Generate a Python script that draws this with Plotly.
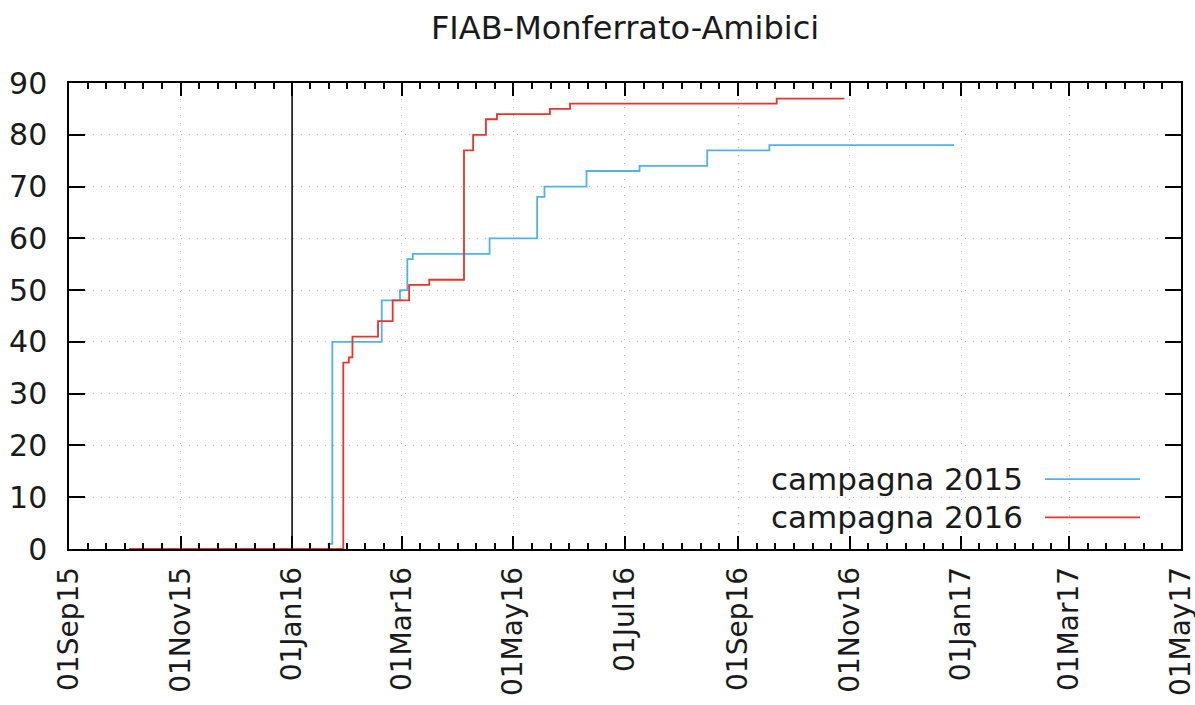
import plotly.graph_objects as go
import pandas as pd

title_text = "FIAB-Monferrato-Amibici"

series_names = ["campagna 2015", "campagna 2016"]

dates_2015 = ["2015-10-04", "2016-01-21", "2016-01-23", "2016-02-19", "2016-02-29",
              "2016-03-04", "2016-03-07", "2016-04-18", "2016-05-14", "2016-05-18",
              "2016-06-10", "2016-07-09", "2016-08-15", "2016-09-18", "2016-12-28"]
values_2015 = [0, 1, 40, 48, 50, 56, 57, 60, 68, 70, 73, 74, 77, 78, 78]

dates_2016 = ["2015-10-04", "2016-01-29", "2016-02-01", "2016-02-03", "2016-02-17",
              "2016-02-25", "2016-03-05", "2016-03-16", "2016-04-04", "2016-04-09",
              "2016-04-16", "2016-04-22", "2016-05-21", "2016-06-01", "2016-09-22",
              "2016-10-29"]
values_2016 = [0, 36, 37, 41, 44, 48, 51, 52, 77, 80, 83, 84, 85, 86, 87, 87]

x_tick_dates = ["2015-09-01", "2015-11-01", "2016-01-01", "2016-03-01", "2016-05-01",
                "2016-07-01", "2016-09-01", "2016-11-01", "2017-01-01", "2017-03-01",
                "2017-05-01"]
x_tick_labels = ["01Sep15", "01Nov15", "01Jan16", "01Mar16", "01May16", "01Jul16",
                 "01Sep16", "01Nov16", "01Jan17", "01Mar17", "01May17"]
y_tick_values = [0, 10, 20, 30, 40, 50, 60, 70, 80, 90]
marker_date = "2016-01-01"

colors = ["#4fb3ea", "#e8342a"]
FONT = "DejaVu Sans"

# minor ticks: 6 subdivisions between major ticks
major = pd.to_datetime(x_tick_dates)
minor_vals = []
for a, b in zip(major[:-1], major[1:]):
    for k in range(1, 6):
        minor_vals.append((a + (b - a) * k / 6).strftime("%Y-%m-%d %H:%M:%S"))
range_end = (major[-1] + pd.Timedelta(hours=2)).strftime("%Y-%m-%d %H:%M:%S")

fig = go.Figure()
for name, xs, ys, c in [(series_names[0], dates_2015, values_2015, colors[0]),
                        (series_names[1], dates_2016, values_2016, colors[1])]:
    fig.add_trace(go.Scatter(x=xs, y=ys, mode="lines", line=dict(color=c, width=1.8, shape="hv"),
                             name=name, showlegend=False))

fig.add_shape(type="line", xref="x", yref="paper", x0=marker_date, x1=marker_date, y0=0, y1=1,
              line=dict(color="black", width=1.5))

# gnuplot-style key: text then sample line
key_y = [0.150, 0.068]
for name, c, yy in zip(series_names, colors, key_y):
    fig.add_annotation(xref="paper", yref="paper", x=0.8597, y=yy, text=name, showarrow=False,
                       xanchor="right", yanchor="middle", font=dict(family=FONT, size=31, color="#1a1a1a"))
    fig.add_shape(type="line", xref="paper", yref="paper", x0=0.8777, x1=0.9631, y0=yy, y1=yy,
                  line=dict(color=c, width=1.8))

fig.update_layout(
    width=1195, height=705,
    margin=dict(l=69, r=14, t=83, b=156, autoexpand=False),
    plot_bgcolor="white", paper_bgcolor="white",
    font=dict(family=FONT, size=30, color="#1a1a1a"),
    title=dict(text=title_text, x=0.5, xref="paper", xanchor="center", y=1 - 28 / 705,
               yanchor="middle", font=dict(family=FONT, size=32, color="#1a1a1a")),
    showlegend=False,
)
fig.update_xaxes(
    type="date", range=[x_tick_dates[0], range_end], automargin=False,
    tickmode="array", tickvals=x_tick_dates, ticktext=x_tick_labels, tickangle=-90,
    tickfont=dict(size=28),
    ticks="inside", ticklen=13, tickwidth=1.5, tickcolor="black",
    showline=True, linecolor="black", linewidth=1.5, mirror="allticks",
    showgrid=True, gridcolor="#b8b8b8", gridwidth=1, griddash="1px,7px",
    zeroline=False, ticklabelstandoff=5, ticklabeloverflow="allow",
    minor=dict(tickmode="array", tickvals=minor_vals, ticks="inside", ticklen=6,
               tickwidth=1.5, tickcolor="black", showgrid=False),
)
fig.update_yaxes(
    range=[0, 90], tickmode="array", tickvals=y_tick_values, automargin=False,
    ticks="inside", ticklen=16, tickwidth=1.5, tickcolor="black",
    showline=True, linecolor="black", linewidth=1.5, mirror="allticks",
    showgrid=True, gridcolor="#b8b8b8", gridwidth=1, griddash="1px,7px",
    zeroline=False, ticklabelstandoff=14,
)

fig.write_html("out.html", config={"displayModeBar": False},
               post_script="document.body.style.margin='0';document.body.style.overflow='hidden';")
